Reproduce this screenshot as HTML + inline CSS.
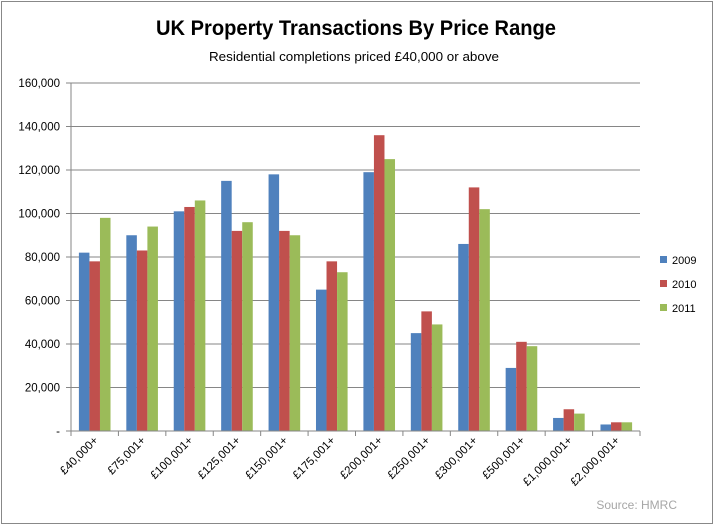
<!DOCTYPE html>
<html><head><meta charset="utf-8"><style>
html,body{margin:0;padding:0;background:#fff}
svg{display:block;font-family:"Liberation Sans",sans-serif}
</style></head><body>
<svg id="s" width="714" height="526" viewBox="0 0 714 526" xmlns="http://www.w3.org/2000/svg">
<rect x="1.5" y="1.5" width="711" height="522" fill="#fff" stroke="#888" stroke-width="1"/>
<text x="356" y="35" text-anchor="middle" font-size="21" font-weight="bold" textLength="400" lengthAdjust="spacingAndGlyphs">UK Property Transactions By Price Range</text>
<text x="354" y="61" text-anchor="middle" font-size="12.5" textLength="290" lengthAdjust="spacingAndGlyphs">Residential completions priced £40,000  or above</text>
<g id="g"></g>
<text x="677" y="509" text-anchor="end" font-size="12" fill="#a6a6a6">Source: HMRC</text>
</svg>
<script>
var g=document.getElementById('g'),h='';
var y0=431,sc=348/160;
for(var i=0;i<=8;i++){var y=y0-i*20*sc;
 if(i>0)h+='<line x1="71" x2="640" y1="'+y+'" y2="'+y+'" stroke="#868686"/>';
 h+='<line x1="66" x2="71" y1="'+y+'" y2="'+y+'" stroke="#868686"/>';
 h+='<text x="60" y="'+(y+4)+'" text-anchor="end" font-size="11.5">'+(i?(i*20)+',000':'-')+'</text>';}
var d=[[82,90,101,115,118,65,119,45,86,29,6,3],[78,83,103,92,92,78,136,55,112,41,10,4],[98,94,106,96,90,73,125,49,102,39,8,4]];
var c=['#4f81bd','#c0504d','#9bbb59'];
var L=['£40,000+','£75,001+','£100,001+','£125,001+','£150,001+','£175,001+','£200,001+','£250,001+','£300,001+','£500,001+','£1,000,001+','£2,000,001+'];
var w=569/12,bw=w*2/9;
for(var k=0;k<12;k++){var x=71+k*w;
 for(var s=0;s<3;s++){var v=d[s][k]*sc;h+='<rect x="'+(x+w/6+s*bw)+'" y="'+(y0-v)+'" width="'+bw+'" height="'+v+'" fill="'+c[s]+'"/>';}
 var cx=x+w/2+4;
 h+='<text transform="translate('+cx+',441) rotate(-45)" text-anchor="end" font-size="11.5">'+L[k]+'</text>';}
for(var k=0;k<=12;k++){var x=71+k*w;h+='<line x1="'+x+'" x2="'+x+'" y1="431" y2="436" stroke="#868686"/>';}
h+='<line x1="71" x2="71" y1="83" y2="431" stroke="#868686"/><line x1="71" x2="640" y1="431" y2="431" stroke="#868686"/>';
['2009','2010','2011'].forEach(function(t,i){var y=260+i*24;h+='<rect x="660" y="'+(y-4)+'" width="7" height="7" fill="'+c[i]+'"/><text x="672" y="'+(y+4)+'" font-size="11">'+t+'</text>';});
g.innerHTML=h;
</script>
</body></html>
